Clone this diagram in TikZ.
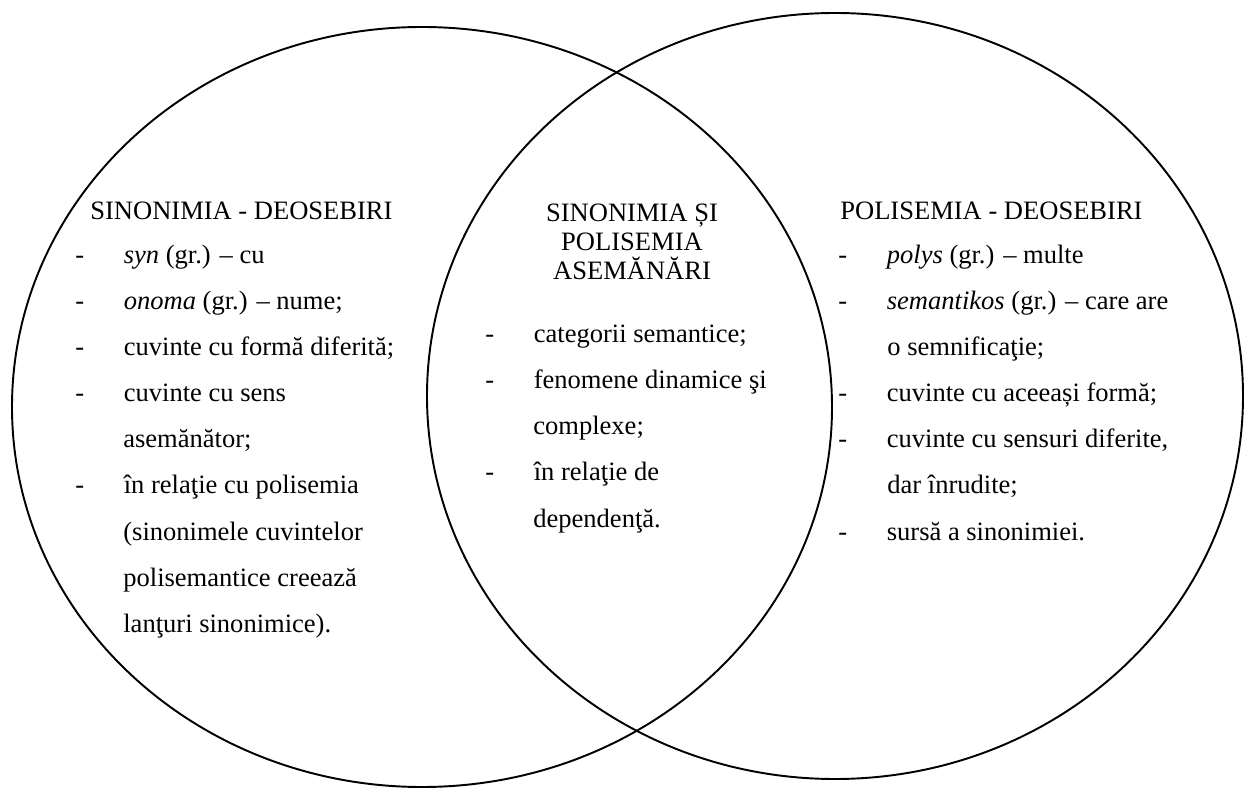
\documentclass[tikz,border=0pt]{standalone}
\usepackage{fontspec}
\setmainfont{Liberation Serif}
\newcommand{\lin}{\makebox[9.7mm][l]{-}}

\begin{document}
\begin{tikzpicture}[x=0.2mm, y=-0.2mm,
  venn/.style={line width=1.1pt},
  rand/.style={anchor=base west, inner sep=0pt, font=\fontsize{15.1pt}{26pt}\selectfont},
  titlu/.style={inner sep=0pt, font=\fontsize{15.1pt}{16.4pt}\selectfont}]
\useasboundingbox (0,0) rectangle (1244,788);
% cele doua elipse
\draw[venn] (422,407) ellipse [x radius=8.2cm, y radius=7.6cm];
\draw[venn] (835,396) ellipse [x radius=8.16cm, y radius=7.66cm];
% sinonimia - stanga
\node[titlu, anchor=base west] (s0) at (90,220) {SINONIMIA - DEOSEBIRI};
\foreach \n/\xx/\t in {1/75/{\lin\textit{syn} (gr.) -- cu},
  2/75/{\lin\textit{onoma} (gr.) -- nume;},
  3/75/{\lin cuvinte cu formă diferită;},
  4/75/{\lin cuvinte cu sens},
  5/123/{asemănător;},
  6/75/{\lin în relaţie cu polisemia},
  7/123/{(sinonimele cuvintelor},
  8/123/{polisemantice creează},
  9/123/{lanţuri sinonimice).}}{
  \node[rand] (s\n) at (\xx,218+46*\n) {\t};
}
% asemanari - centru
\node[titlu, align=center, anchor=north] (c0) at (632,204) {SINONIMIA ȘI\\POLISEMIA\\ASEMĂNĂRI};
\foreach \n/\xx/\t in {1/485/{\lin categorii semantice;},
  2/485/{\lin fenomene dinamice şi},
  3/533/{complexe;},
  4/485/{\lin în relaţie de},
  5/533/{dependenţă.}}{
  \node[rand] (c\n) at (\xx,297+46*\n) {\t};
}
% polisemia - dreapta
\node[titlu, anchor=base west] (p0) at (840,220) {POLISEMIA - DEOSEBIRI};
\foreach \n/\xx/\t in {1/838/{\lin\textit{polys} (gr.) -- multe},
  2/838/{\lin\textit{semantikos} (gr.) -- care are},
  3/887/{o semnificaţie;},
  4/838/{\lin cuvinte cu aceeași formă;},
  5/838/{\lin cuvinte cu sensuri diferite,},
  6/887/{dar înrudite;},
  7/838/{\lin sursă a sinonimiei.}}{
  \node[rand] (p\n) at (\xx,218+46*\n) {\t};
}
\end{tikzpicture}
\end{document}
